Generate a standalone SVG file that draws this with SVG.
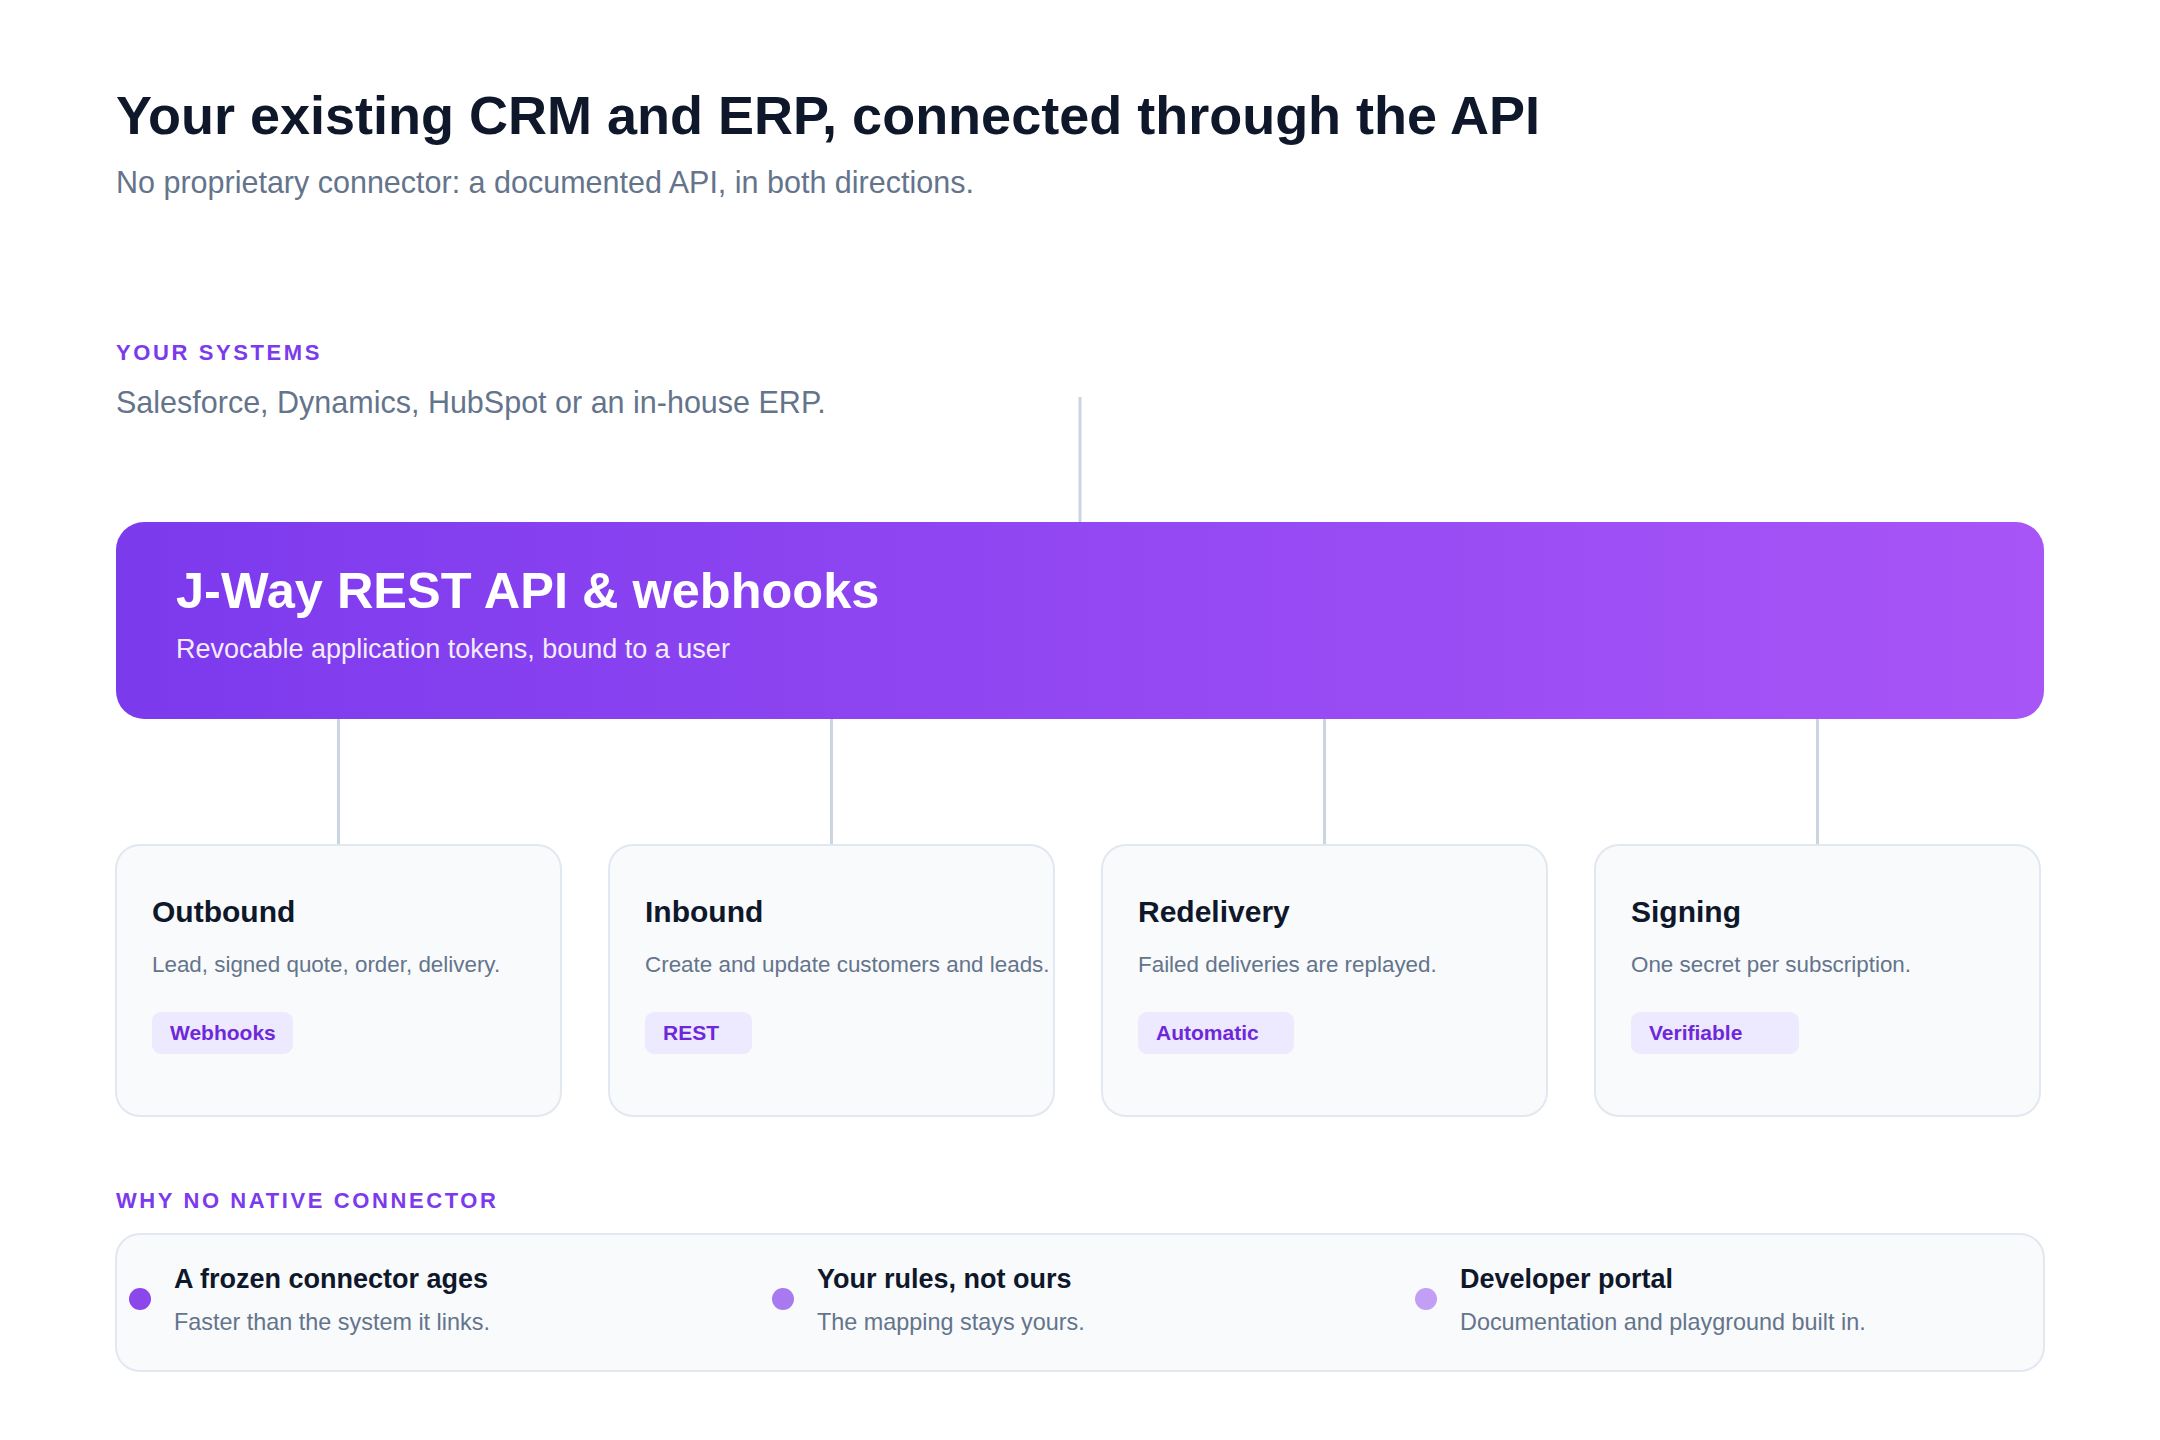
<svg xmlns="http://www.w3.org/2000/svg" width="2160" height="1440" viewBox="0 0 2160 1440">
<defs>
<linearGradient id="hub" x1="0" y1="0" x2="1" y2="0">
<stop offset="0" stop-color="#7c3aed"/>
<stop offset="1" stop-color="#a855f7"/>
</linearGradient>
<style>
text{font-family:"Liberation Sans",Arial,Helvetica,sans-serif}
.h1{font-size:54px;font-weight:700;fill:#0f172a}
.sub{font-size:30.5px;fill:#64748b}
.eyebrow{font-size:22px;font-weight:700;fill:#7c3aed;letter-spacing:2.6px}
.hubt{font-size:50.5px;font-weight:700;fill:#ffffff}
.hubs{font-size:27px;fill:#f3ecff}
.card{fill:#f8fafc;stroke:#e2e8f0;stroke-width:2}
.ct{font-size:30px;font-weight:700;fill:#0f172a}
.cd{font-size:22.4px;fill:#64748b}
.tag{fill:#ede9fe}
.tagt{font-size:21px;font-weight:700;fill:#6d28d9}
.conn{stroke:#cbd5e1;stroke-width:3;fill:none}
.bt{font-size:27px;font-weight:700;fill:#0f172a}
.bd{font-size:23.4px;fill:#64748b}
</style>
</defs>
<rect width="2160" height="1440" fill="#ffffff"/>
<g id="header">
<text class="h1" x="116" y="134">Your existing CRM and ERP, connected through the API</text>
<text class="sub" x="116" y="193">No proprietary connector: a documented API, in both directions.</text>
</g>
<g id="connectors">
<line class="conn" x1="1080" y1="397" x2="1080" y2="522"/>
<line class="conn" x1="338.5" y1="719" x2="338.5" y2="845"/>
<line class="conn" x1="831.5" y1="719" x2="831.5" y2="845"/>
<line class="conn" x1="1324.5" y1="719" x2="1324.5" y2="845"/>
<line class="conn" x1="1817.5" y1="719" x2="1817.5" y2="845"/>
</g>
<g id="your-systems">
<text class="eyebrow" x="116" y="360">YOUR SYSTEMS</text>
<text class="sub" x="116" y="413">Salesforce, Dynamics, HubSpot or an in-house ERP.</text>
</g>
<g id="api-hub">
<rect x="116" y="522" width="1928" height="197" rx="28" fill="url(#hub)"/>
<text class="hubt" x="176" y="608">J-Way REST API &amp; webhooks</text>
<text class="hubs" x="176" y="658">Revocable application tokens, bound to a user</text>
</g>
<g id="card-outbound">
<rect class="card" x="116" y="845" width="445" height="271" rx="24"/>
<text class="ct" x="152" y="922">Outbound</text>
<text class="cd" x="152" y="972">Lead, signed quote, order, delivery.</text>
<rect class="tag" x="152" y="1012" width="141" height="42" rx="9"/>
<text class="tagt" x="170" y="1040">Webhooks</text>
</g>
<g id="card-inbound">
<rect class="card" x="609" y="845" width="445" height="271" rx="24"/>
<text class="ct" x="645" y="922">Inbound</text>
<text class="cd" x="645" y="972">Create and update customers and leads.</text>
<rect class="tag" x="645" y="1012" width="107" height="42" rx="9"/>
<text class="tagt" x="663" y="1040">REST</text>
</g>
<g id="card-redelivery">
<rect class="card" x="1102" y="845" width="445" height="271" rx="24"/>
<text class="ct" x="1138" y="922">Redelivery</text>
<text class="cd" x="1138" y="972">Failed deliveries are replayed.</text>
<rect class="tag" x="1138" y="1012" width="156" height="42" rx="9"/>
<text class="tagt" x="1156" y="1040">Automatic</text>
</g>
<g id="card-signing">
<rect class="card" x="1595" y="845" width="445" height="271" rx="24"/>
<text class="ct" x="1631" y="922">Signing</text>
<text class="cd" x="1631" y="972">One secret per subscription.</text>
<rect class="tag" x="1631" y="1012" width="168" height="42" rx="9"/>
<text class="tagt" x="1649" y="1040">Verifiable</text>
</g>
<g id="why-no-native-connector">
<text class="eyebrow" x="116" y="1208">WHY NO NATIVE CONNECTOR</text>
<rect class="card" x="116" y="1234" width="1928" height="137" rx="24"/>
<circle cx="140" cy="1299" r="11" fill="#8b47ec"/>
<text class="bt" x="174" y="1288">A frozen connector ages</text>
<text class="bd" x="174" y="1330">Faster than the system it links.</text>
<circle cx="783" cy="1299" r="11" fill="#a879ef"/>
<text class="bt" x="817" y="1288">Your rules, not ours</text>
<text class="bd" x="817" y="1330">The mapping stays yours.</text>
<circle cx="1426" cy="1299" r="11" fill="#c29ff4"/>
<text class="bt" x="1460" y="1288">Developer portal</text>
<text class="bd" x="1460" y="1330">Documentation and playground built in.</text>
</g>
</svg>
